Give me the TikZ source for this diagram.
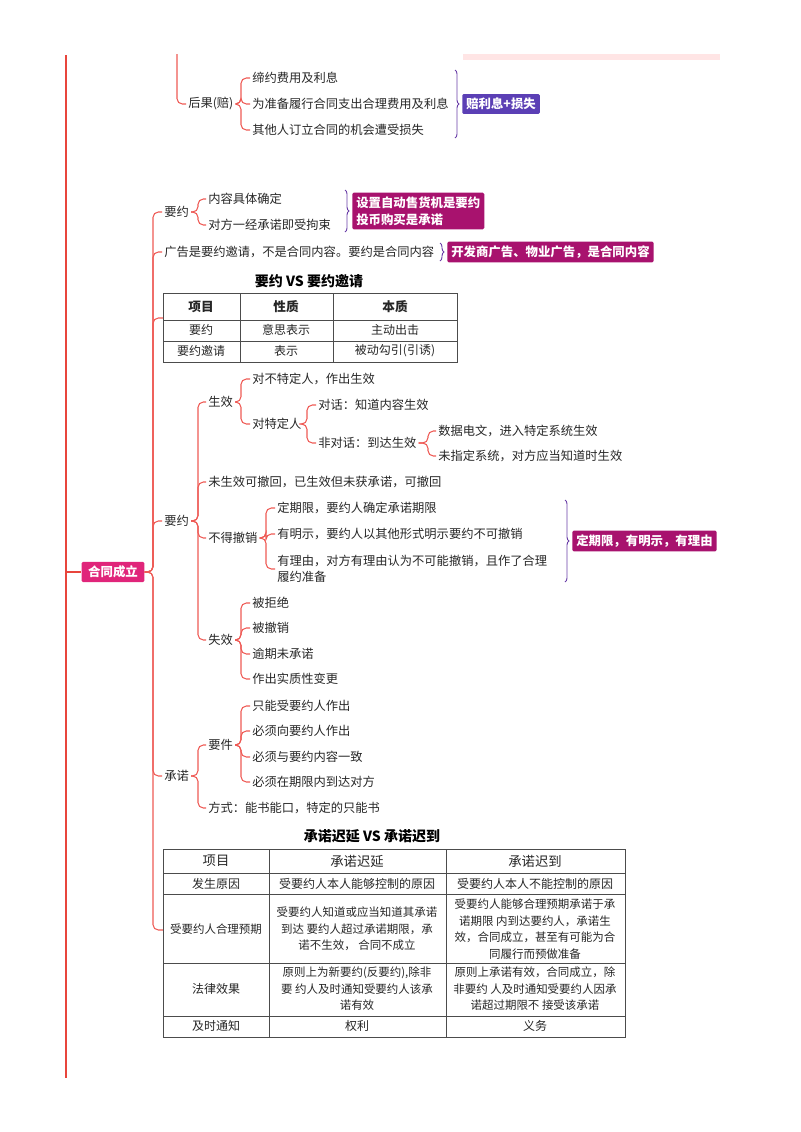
\documentclass[tikz,border=0pt]{standalone}
\usepackage{fontspec}
\setmainfont{Noto Sans CJK SC}
\usetikzlibrary{positioning,decorations.pathreplacing}
\definecolor{branchred}{HTML}{EE5A55}
\definecolor{mainred}{HTML}{E8453C}
\definecolor{rootpink}{HTML}{E0257A}
\definecolor{tipviolet}{HTML}{5B3FB5}
\definecolor{tipmagenta}{HTML}{A8126E}
\definecolor{bracecol}{HTML}{6A3FA8}

\begin{document}
\begin{tikzpicture}[x=0.75pt,y=-0.75pt,
	lbl/.style={anchor=west, inner sep=1.5pt, font=\fontsize{9.2}{12}\selectfont, text=black!85},
	tip/.style={anchor=west, inner sep=3pt, rounded corners=1pt, text=white, font=\bfseries\fontsize{9.3}{12.5}\selectfont, align=left},
	br/.style={branchred, line width=0.8pt, rounded corners=4pt},
	brc/.style={bracecol, line width=0.7pt, decorate, decoration={brace, amplitude=3pt}},
	cell/.style={inner sep=1pt, align=center, font=\fontsize{9}{11}\selectfont, text=black!85},
	celltwo/.style={inner sep=1pt, align=center, font=\fontsize{8.6}{12.4}\selectfont, text=black!85},
	grid/.style={black!70, line width=0.7pt}]
\useasboundingbox (0,0) rectangle (800,1132);
\fill[red!10] (463,54) rectangle (720,60);

% main line and root
\draw[mainred, line width=1.6pt] (66,55) -- (66,1078);
\node (root) at (113,572) [fill=rootpink, text=white, font=\bfseries\fontsize{9.3}{12}\selectfont, inner xsep=5pt, inner ysep=3pt, rounded corners=1pt] {合同成立};
\draw[mainred, line width=1.6pt] (66,572) -- (root.west);

% top part
\coordinate (top) at (177,54);
\node (hg) at (186,104) [lbl] {后果(赔)};
\draw[br] (top) |- (hg.west);
\node (hg1) at (250,78) [lbl] {缔约费用及利息};
\node (hg2) at (250,104) [lbl] {为准备履行合同支出合理费用及利息};
\node (hg3) at (250,130) [lbl] {其他人订立合同的机会遭受损失};
\foreach \c in {hg1,hg2,hg3} \draw[br] (hg.east) -- (241,104) |- (\c.west);
\draw[brc] (455,70) -- (455,138);
\node (t1) at (462,104) [tip, fill=tipviolet] {赔利息+损失};

% root branches
\node (yy) at (162,212) [lbl] {要约};
\node (gg) at (162,252) [lbl] {广告是要约邀请，不是合同内容。要约是合同内容};
\coordinate (tab1) at (163,318);
\node (yy2) at (162,521) [lbl] {要约};
\node (cn) at (162,776) [lbl] {承诺};
\coordinate (tab2) at (163,930);
\foreach \c in {yy,gg,tab1,yy2,cn,tab2} \draw[br] (root.east) -- (153,572) |- (\c.west);

% offer: content
\node (yy1a) at (206,199) [lbl] {内容具体确定};
\node (yy1b) at (206,225) [lbl] {对方一经承诺即受拘束};
\foreach \c in {yy1a,yy1b} \draw[br] (yy.east) -- (198,212) |- (\c.west);
\draw[brc] (345,190) -- (345,232);
\node (t2) at (352,211) [tip, fill=tipmagenta] {设置自动售货机是要约\\投币购买是承诺};
\draw[brc] (440,243) -- (440,261);
\node (t3) at (447,252) [tip, fill=tipmagenta] {开发商广告、物业广告，是合同内容};

% table 1
\node (tt1) at (309,281) [font=\bfseries\fontsize{10.5}{12}\selectfont] {要约 VS 要约邀请};
\draw[grid] (163,293) rectangle (457,362);
\foreach \y in {320,341} \draw[grid] (163,\y) -- (457,\y);
\foreach \x in {240,333} \draw[grid] (\x,293) -- (\x,362);
\node (h11) at (201,307) [cell, font=\bfseries\fontsize{9.5}{11}\selectfont] {项目};
\node (h12) at (286,307) [cell, font=\bfseries\fontsize{9.5}{11}\selectfont] {性质};
\node (h13) at (395,307) [cell, font=\bfseries\fontsize{9.5}{11}\selectfont] {本质};
\node (c11) at (201,330) [cell] {要约};
\node (c12) at (286,330) [cell] {意思表示};
\node (c13) at (395,330) [cell] {主动出击};
\node (c21) at (201,351) [cell] {要约邀请};
\node (c22) at (286,351) [cell] {表示};
\node (c23) at (395,351) [cell] {被动勾引(引诱)};

% offer: detail
\node (sx) at (206,402) [lbl] {生效};
\node (wsx) at (206,482) [lbl] {未生效可撤回，已生效但未获承诺，可撤回};
\node (bd) at (206,538) [lbl] {不得撤销};
\node (shx) at (206,640) [lbl] {失效};
\foreach \c in {sx,wsx,bd,shx} \draw[br] (yy2.east) -- (198,521) |- (\c.west);

\node (sx1) at (250,379) [lbl] {对不特定人，作出生效};
\node (sx2) at (250,424) [lbl] {对特定人};
\foreach \c in {sx1,sx2} \draw[br] (sx.east) -- (241,402) |- (\c.west);
\node (dh) at (316,405) [lbl] {对话：知道内容生效};
\node (fdh) at (316,443) [lbl] {非对话：到达生效};
\foreach \c in {dh,fdh} \draw[br] (sx2.east) -- (307,424) |- (\c.west);
\node (sj) at (436,431) [lbl] {数据电文，进入特定系统生效};
\node (wzd) at (436,456) [lbl] {未指定系统，对方应当知道时生效};
\foreach \c in {sj,wzd} \draw[br] (fdh.east) -- (428,443) |- (\c.west);

\node (bd1) at (275,508) [lbl] {定期限，要约人确定承诺期限};
\node (bd2) at (275,534) [lbl] {有明示，要约人以其他形式明示要约不可撤销};
\node (bd3) at (275,569) [lbl, align=left] {有理由，对方有理由认为不可能撤销，且作了合理\\履约准备};
\foreach \c in {bd1,bd2,bd3} \draw[br] (bd.east) -- (266,538) |- (\c.west);
\draw[brc] (565,500) -- (565,582);
\node (t4) at (572,541) [tip, fill=tipmagenta] {定期限，有明示，有理由};

\node (sx3) at (250,603) [lbl] {被拒绝};
\node (sx4) at (250,628) [lbl] {被撤销};
\node (sx5) at (250,654) [lbl] {逾期未承诺};
\node (sx6) at (250,679) [lbl] {作出实质性变更};
\foreach \c in {sx3,sx4,sx5,sx6} \draw[br] (shx.east) -- (241,640) |- (\c.west);

% acceptance
\node (yj) at (206,745) [lbl] {要件};
\node (fs) at (206,808) [lbl] {方式：能书能口，特定的只能书};
\foreach \c in {yj,fs} \draw[br] (cn.east) -- (198,776) |- (\c.west);
\node (yj1) at (250,706) [lbl] {只能受要约人作出};
\node (yj2) at (250,731) [lbl] {必须向要约人作出};
\node (yj3) at (250,757) [lbl] {必须与要约内容一致};
\node (yj4) at (250,782) [lbl] {必须在期限内到达对方};
\foreach \c in {yj1,yj2,yj3,yj4} \draw[br] (yj.east) -- (241,745) |- (\c.west);

% table 2
\node (tt2) at (372,836) [font=\bfseries\fontsize{10.5}{12}\selectfont] {承诺迟延 VS 承诺迟到};
\draw[grid] (163,849) rectangle (625,1037);
\foreach \y in {873,894,963,1016} \draw[grid] (163,\y) -- (625,\y);
\foreach \x in {269,446} \draw[grid] (\x,849) -- (\x,1037);
\node (d11) at (216,861) [cell, font=\fontsize{10}{12}\selectfont] {项目};
\node (d12) at (357,861) [cell, font=\fontsize{10}{12}\selectfont] {承诺迟延};
\node (d13) at (535,861) [cell, font=\fontsize{10}{12}\selectfont] {承诺迟到};
\node (d21) at (216,884) [cell] {发生原因};
\node (d22) at (357,884) [cell] {受要约人本人能够控制的原因};
\node (d23) at (535,884) [cell] {受要约人本人不能控制的原因};
\node (d31) at (216,929) [cell, font=\fontsize{8.6}{11}\selectfont] {受要约人合理预期};
\node (d32) at (357,929) [celltwo] {受要约人知道或应当知道其承诺\\到达 要约人超过承诺期限，承\\诺不生效， 合同不成立};
\node (d33) at (535,929) [celltwo] {受要约人能够合理预期承诺于承\\诺期限 内到达要约人，承诺生\\效，合同成立，甚至有可能为合\\同履行而预做准备};
\node (d41) at (216,989) [cell] {法律效果};
\node (d42) at (357,989) [celltwo] {原则上为新要约(反要约),除非\\要 约人及时通知受要约人该承\\诺有效};
\node (d43) at (535,989) [celltwo] {原则上承诺有效，合同成立，除\\非要约 人及时通知受要约人因承\\诺超过期限不 接受该承诺};
\node (d51) at (216,1026) [cell] {及时通知};
\node (d52) at (357,1026) [cell] {权利};
\node (d53) at (535,1026) [cell] {义务};
\end{tikzpicture}
\end{document}
